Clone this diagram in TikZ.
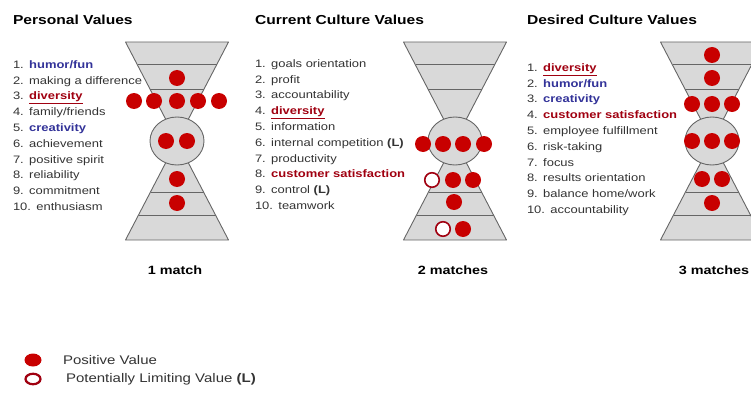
\documentclass[tikz,border=0pt]{standalone}
\usepackage{fontspec}
\setmainfont{Liberation Sans}[FakeStretch=1.2]
\usepackage{tikz}
\usetikzlibrary{chains,positioning,shapes.geometric}

\definecolor{valred}{HTML}{C80000}
\definecolor{valdark}{HTML}{A00010}
\definecolor{valblue}{HTML}{333399}
\definecolor{glassfill}{HTML}{D9D9D9}
\definecolor{glassline}{HTML}{666666}

\newcommand{\bluev}[1]{{\bfseries\color{valblue}#1}}
\newcommand{\divv}[1]{{\bfseries\color{valdark}\underline{#1}}}
\newcommand{\custv}[1]{{\bfseries\color{valdark}#1}}

\begin{document}
\begin{tikzpicture}[x=1pt,y=-1pt,
  every node/.style={inner sep=0pt,outer sep=0pt},
  glass/.style={draw=glassline,fill=glassfill,line width=0.9pt,line join=round},
  glassband/.style={draw=glassline,line width=0.9pt},
  posdot/.style={circle,fill=valred,minimum size=16pt},
  limdot/.style={circle,draw=valdark,line width=1.6pt,fill=white,minimum size=14.5pt},
  valitem/.style={text width=170pt,align=left,minimum height=15.8pt,
    text height=8pt,text depth=2.5pt,font=\fontsize{10.8}{13}\selectfont,text=black!80},
  heading/.style={font=\fontsize{13}{15}\selectfont\bfseries,anchor=base west},
  score/.style={font=\fontsize{12}{14}\selectfont\bfseries},
  keytext/.style={font=\fontsize{12.5}{15}\selectfont,anchor=west,text=black!80},
]
\useasboundingbox (0,0) rectangle (751,401);

% the three hourglasses
\foreach \c in {177,455,712} {
\begin{scope}[shift={(\c,141)}]
\draw[glass] (-51.5,-99) -- (51.5,-99) -- (0,0) -- cycle;
\draw[glass] (-51.5,99) -- (51.5,99) -- (0,0) -- cycle;
\draw[glassband] (-39.5,-77) -- (39.5,-77);
\draw[glassband] (-27,-52) -- (27,-52);
\draw[glassband] (-26.5,51) -- (26.5,51);
\draw[glassband] (-38.5,74) -- (38.5,74);
\draw[glass] (0,0) ellipse [x radius=27, y radius=24];
\end{scope}
}

% headings
\node[heading] (pvhead) at (13,25) {Personal Values};
\node[heading] (cchead) at (255,25) {Current Culture Values};
\node[heading] (dchead) at (527,25) {Desired Culture Values};

% personal values
\begin{scope}[shift={(98,65.5)},start chain=going below,node distance=0pt]
\foreach \t [count=\i] in {{\bluev{humor/fun}},making a difference,{\divv{diversity}},
  family/friends,{\bluev{creativity}},achievement,positive spirit,reliability,
  commitment,enthusiasm}
\node[valitem,on chain] (pv\i) {\i. \t};
\end{scope}

% current culture values
\begin{scope}[shift={(340,64.5)},start chain=going below,node distance=0pt]
\foreach \t [count=\i] in {goals orientation,profit,accountability,{\divv{diversity}},
  information,{internal competition \textbf{(L)}},productivity,
  {\custv{customer satisfaction}},{control \textbf{(L)}},teamwork}
\node[valitem,on chain] (cc\i) {\i. \t};
\end{scope}

% desired culture values
\begin{scope}[shift={(612,68.5)},start chain=going below,node distance=0pt]
\foreach \t [count=\i] in {{\divv{diversity}},{\bluev{humor/fun}},{\bluev{creativity}},
  {\custv{customer satisfaction}},employee fulfillment,risk-taking,focus,
  results orientation,balance home/work,accountability}
\node[valitem,on chain] (dc\i) {\i. \t};
\end{scope}

% dots of the personal values
\foreach \x/\y [count=\i] in {177/78,134/101,154/101,177/101,198/101,219/101,
  166/141,187/141,177/179,177/203}
\node[posdot] (pd\i) at (\x,\y) {};

% dots of the current culture
\foreach \x/\y [count=\i] in {423/144,443/144,463/144,484/144,453/180,473/180,
  454/202,463/229}
\node[posdot] (cd\i) at (\x,\y) {};
\node[limdot] (cl1) at (432,180) {};
\node[limdot] (cl2) at (443,229) {};

% dots of the desired culture
\foreach \x/\y [count=\i] in {712/55,712/78,692/104,712/104,732/104,692/141,
  712/141,732/141,702/179,722/179,712/203}
\node[posdot] (dd\i) at (\x,\y) {};

% number of matches
\node[score] (pvscore) at (175,270) {1 match};
\node[score] (ccscore) at (453,270) {2 matches};
\node[score] (dcscore) at (714,270) {3 matches};

% legend
\node[ellipse,fill=valred,minimum width=17pt,minimum height=13pt] (keypos) at (33,360) {};
\node[ellipse,draw=valdark,fill=white,line width=2.2pt,minimum width=15pt,
  minimum height=10.5pt] (keylim) at (33,379) {};
\node[keytext] (keypostext) at (63,360) {Positive Value};
\node[keytext] (keylimtext) at (66,379) {Potentially Limiting Value \textbf{(L)}};
\end{tikzpicture}
\end{document}
